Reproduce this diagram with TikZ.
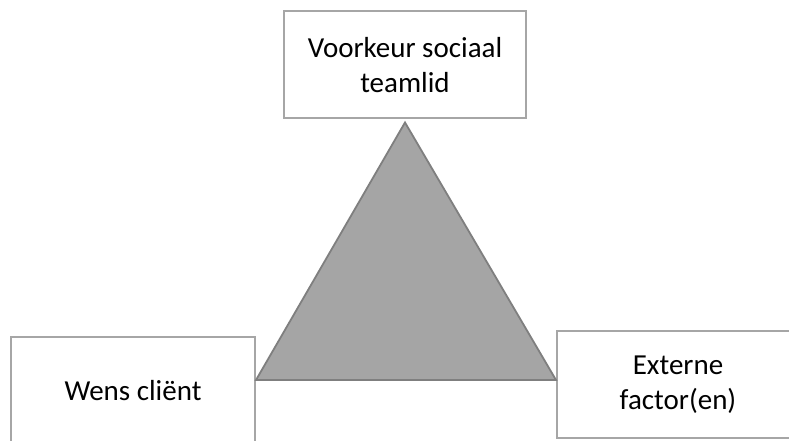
\documentclass[tikz,border=0pt]{standalone}
\usepackage{fontspec}
\setmainfont{Carlito}
\begin{document}
\begin{tikzpicture}[x=1pt,y=1pt,
  box/.style={draw=boxgray,line width=2pt,fill=white,align=center,inner sep=0pt,
    font=\fontsize{29}{35}\selectfont},
  tri/.style={draw=trigray,fill=trifill,line width=1.8pt,line join=miter}]
\definecolor{boxgray}{HTML}{A6A6A6}
\definecolor{trigray}{HTML}{7F7F7F}
\definecolor{trifill}{HTML}{A5A5A5}
\useasboundingbox (0,0) rectangle (789,-441);
\clip (0,0) rectangle (789,-441);
\node[box,minimum width=242pt,minimum height=107pt] (top) at (405,-65) {Voorkeur sociaal\\teamlid};
\node[box,minimum width=244pt,minimum height=107pt] (left) at (133,-390.5) {Wens cliënt};
\node[box,minimum width=250pt,minimum height=107pt] (right) at (682,-384.5) {\hspace*{-8pt}Externe\\\hspace*{-8pt}factor(en)};
\coordinate (apex) at ([yshift=-3pt]top.south);
\coordinate (bl) at (left.east |- 0,-380);
\coordinate (br) at (right.west |- 0,-380);
\draw[tri] (apex) -- (bl) -- (br) -- cycle;
\end{tikzpicture}
\end{document}
